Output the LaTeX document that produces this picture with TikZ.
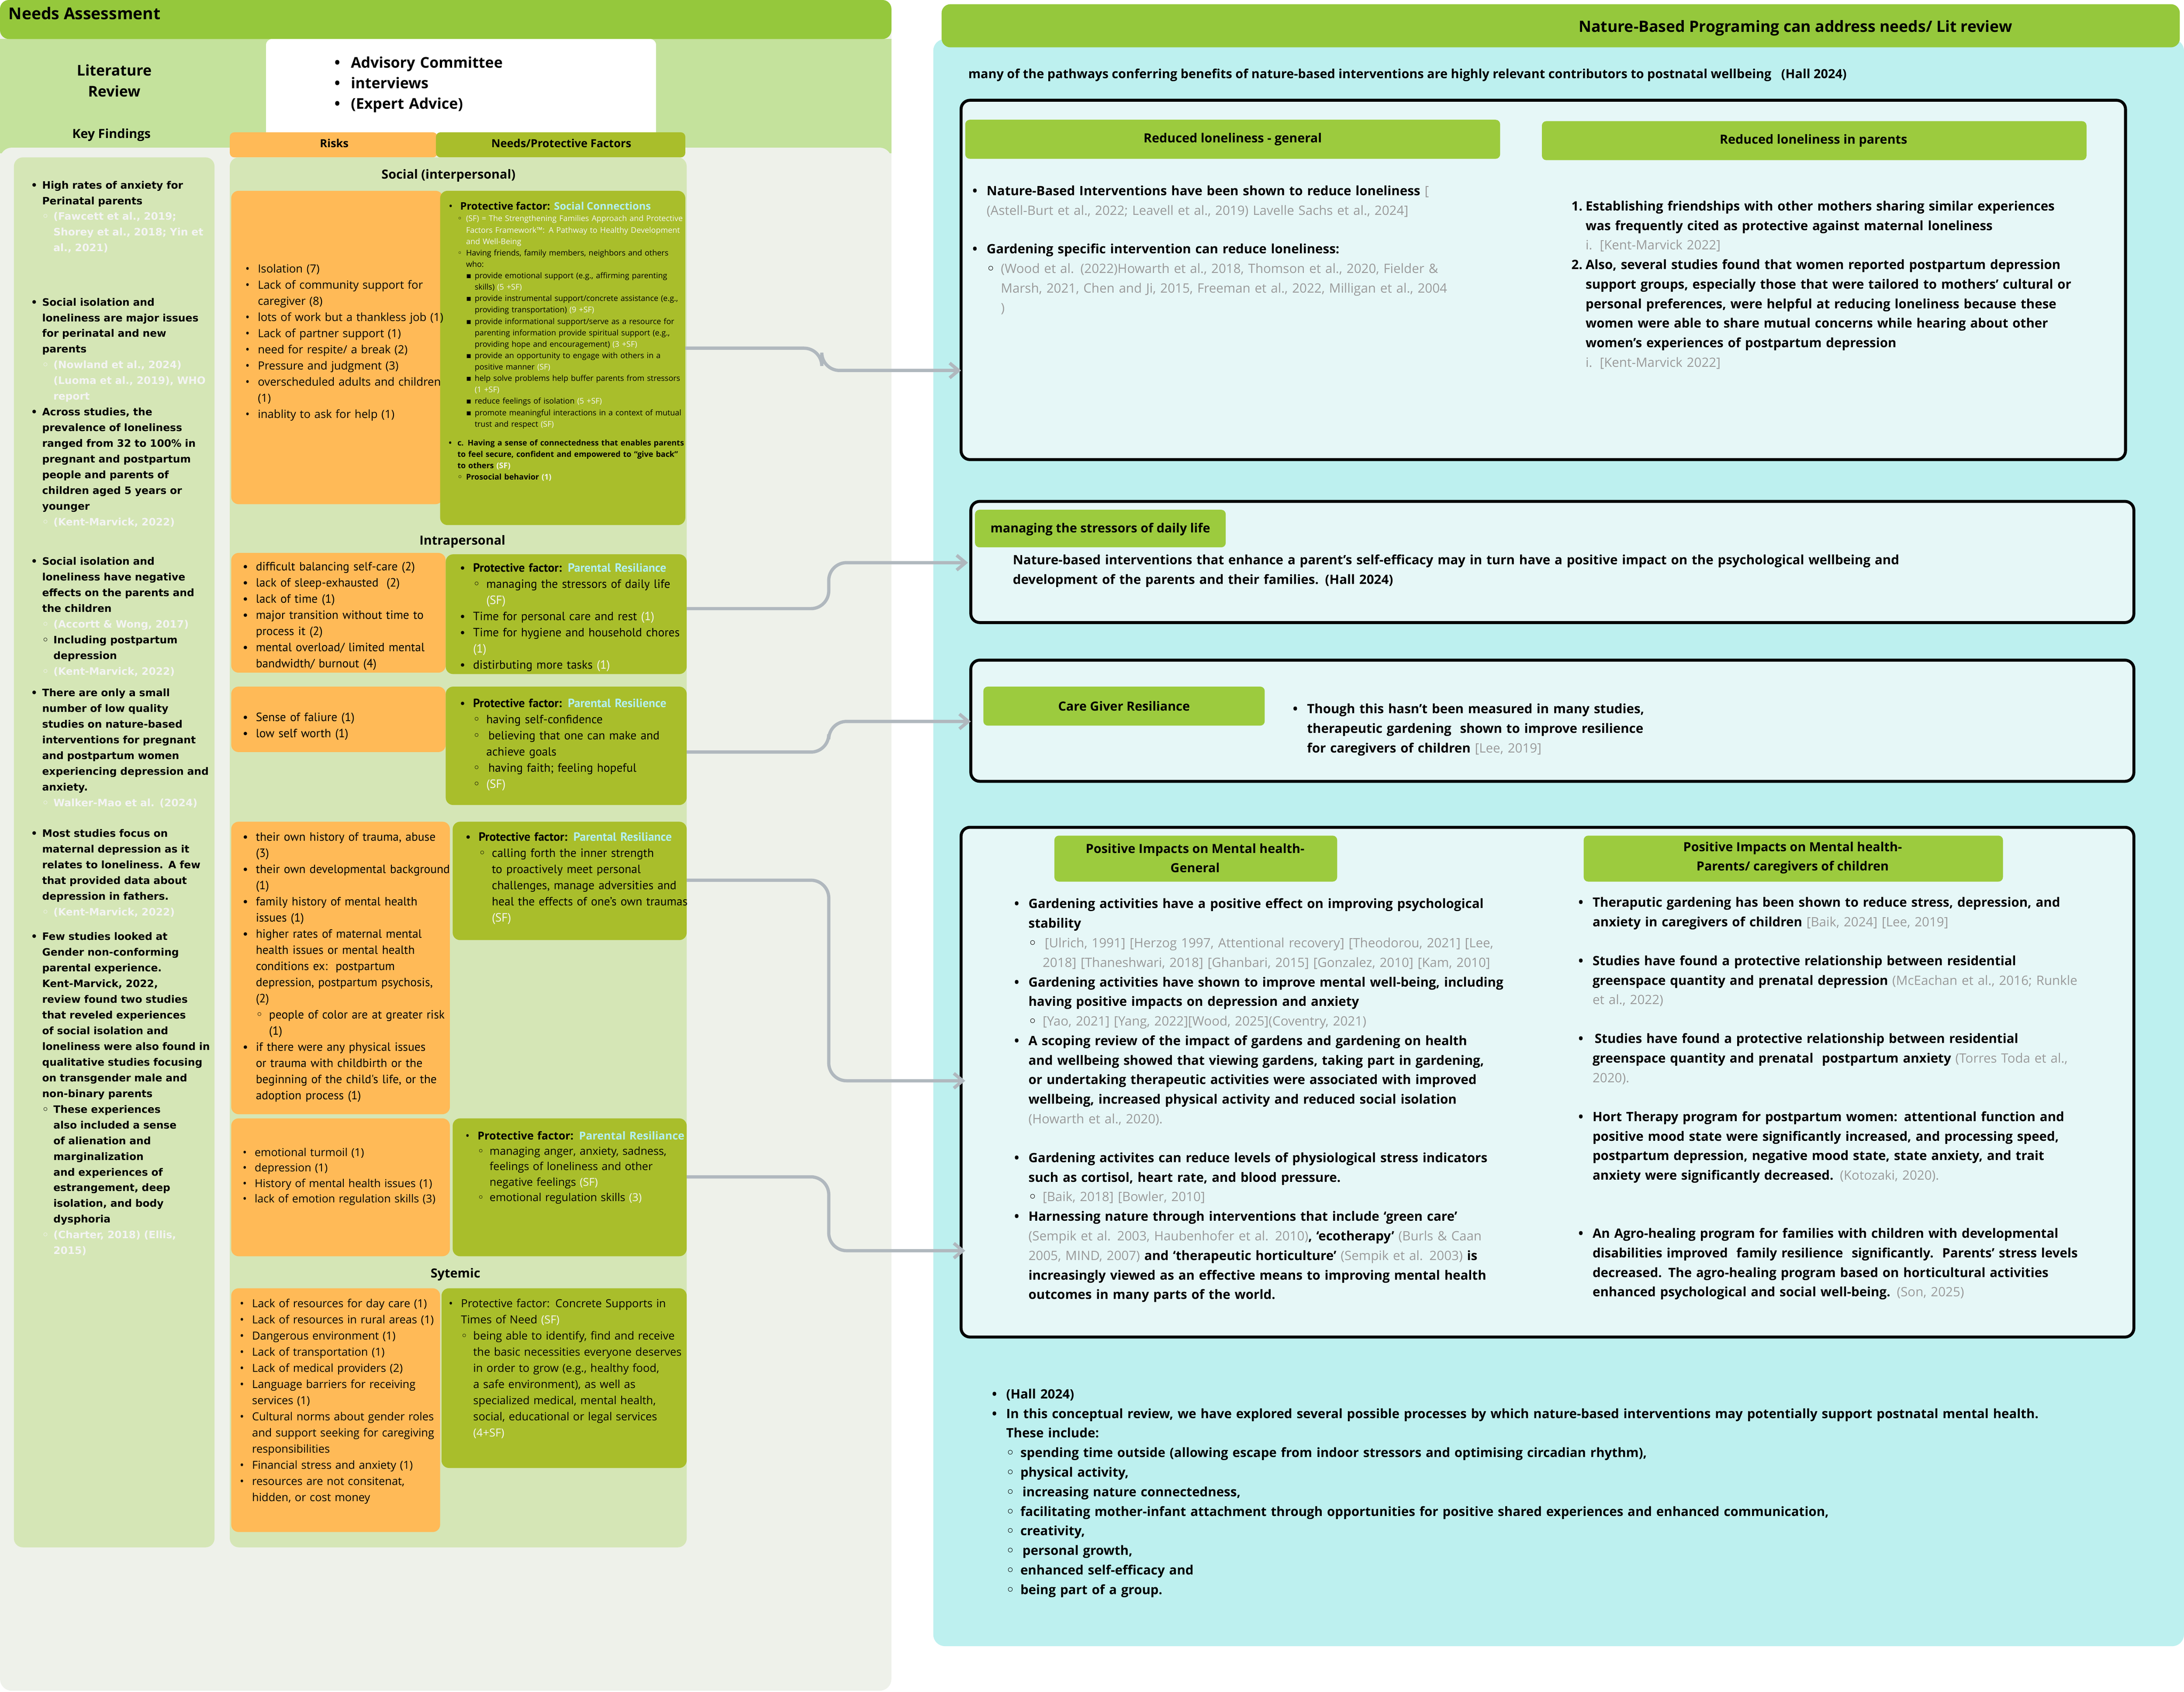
\documentclass[tikz,border=0pt]{standalone}
\usepackage{fontspec}
\setmainfont{Open Sans}
\newfontfamily\ptsans{PT Sans}
\newfontfamily\djv{DejaVu Sans}
\usetikzlibrary{arrows.meta}
\hyphenpenalty=10000 \exhyphenpenalty=10000
\definecolor{hdr}{HTML}{95C83C}
\definecolor{band}{HTML}{C4E29C}
\definecolor{panel}{HTML}{D5E6B6}
\definecolor{leftbg}{HTML}{EEF1EA}
\definecolor{orng}{HTML}{FFBA57}
\definecolor{olive}{HTML}{A9BE2B}
\definecolor{cyanbg}{HTML}{BDF0EF}
\definecolor{boxbg}{HTML}{E6F7F7}
\definecolor{lbl}{HTML}{9CCB3E}
\definecolor{arrg}{HTML}{B0B8BE}
\definecolor{citew}{HTML}{F4F4F4}
\definecolor{citeg}{HTML}{9A9A9A}
\definecolor{citec}{HTML}{B3F0F2}
\newcommand\fsz[2]{\fontsize{#1}{#2}\selectfont}
\newcommand\Li[3]{\par{\leftskip=#1\relax\hangindent=1.1em\hangafter=1\noindent\makebox[1.1em][l]{#2}#3\par}}
\newcommand\ba[1]{\Li{0pt}{\textbullet}{#1}}
\newcommand\bb[1]{\Li{1.1em}{{\djv ◦}}{#1}}
\newcommand\bbw[1]{\Li{1.1em}{\textcolor{citew}{\djv ◦}}{\textcolor{citew}{#1}}}
\newcommand\bc[1]{\Li{2.2em}{{\djv ▪}}{#1}}
\newcommand\cw[1]{\textcolor{citew}{#1}}
\newcommand\cg[1]{\textcolor{citeg}{\mdseries #1}}
\newcommand\cc[1]{\textcolor{citec}{#1}}
\tikzset{
  txt/.style={anchor=north west, inner sep=0pt, align=left},
  ttl/.style={inner sep=0pt, font=\bfseries\fsz{8.5}{10}},
  arr/.style={draw=arrg, line width=2.2pt, rounded corners=12pt, -{Straight Barb[length=6pt,width=10pt]}},
  bbox/.style={fill=boxbg, draw=black, line width=2pt, rounded corners=6pt},
  lblbox/.style={fill=lbl, rounded corners=3pt},
}
\begin{document}
\begin{tikzpicture}[x=0.94pt,y=-0.94pt]
\useasboundingbox (0,0) rectangle (1568,1214.8);
% ---------------- left panel
\fill[leftbg, rounded corners=8pt] (0,0) rectangle (640,1214);
\fill[band] (0,28) rectangle (640,110);
\fill[leftbg, rounded corners=8pt] (0,106) rectangle (640,130);
\fill[hdr, rounded corners=6pt] (0,0) rectangle (640,28);
\node[txt, font=\bfseries\fsz{11}{13}] (na) at (6,5) {Needs Assessment};
\node[ttl, font=\bfseries\fsz{10}{14}, align=center] (lr) at (82,58) {Literature\\Review};
\fill[white, rounded corners=4pt] (191,28) rectangle (471,100);
\node[txt, font=\bfseries\fsz{10}{13.8}, text width=210pt] (adv) at (240,34)
 {\ba{Advisory Committee}\ba{interviews}\ba{(Expert Advice)}};
\node[ttl] (kfl) at (80,97) {Key Findings};
\fill[panel, rounded corners=6pt] (10,113) rectangle (154,1111);
\node[txt, text width=122pt, font=\djv\bfseries\fsz{6.9}{10.6}] (kf) at (22,124) {%
\ba{High rates of anxiety for Perinatal parents}
\bbw{(Fawcett et al., 2019; Shorey et al., 2018; Yin et al., 2021)}
\vspace{26pt}
\ba{Social isolation and loneliness are major issues for perinatal and new parents}
\bbw{(Nowland et al., 2024) (Luoma et al., 2019), WHO report}
\ba{Across studies, the prevalence of loneliness ranged from 32 to 100\% in pregnant and postpartum people and parents of children aged 5 years or younger}
\bbw{(Kent-Marvick, 2022)}
\vspace{16pt}
\ba{Social isolation and loneliness have negative effects on the parents and the children}
\bbw{(Accortt \& Wong, 2017)}
\bb{Including postpartum depression}
\bbw{(Kent-Marvick, 2022)}
\vspace{4pt}
\ba{There are only a small number of low quality studies on nature-based interventions for pregnant and postpartum women experiencing depression and anxiety.}
\bbw{Walker-Mao et al. (2024)}
\vspace{10pt}
\ba{Most studies focus on maternal depression as it relates to loneliness. A few that provided data about depression in fathers.}
\bbw{(Kent-Marvick, 2022)}
\vspace{6pt}
\ba{Few studies looked at Gender non-conforming parental experience. Kent-Marvick, 2022, review found two studies that reveled experiences of social isolation and loneliness were also found in qualitative studies focusing on transgender male and non-binary parents}
\bb{These experiences also included a sense of alienation and marginalization and experiences of estrangement, deep isolation, and body dysphoria}
\bbw{(Charter, 2018) (Ellis, 2015)}};
% middle column
\fill[orng, rounded corners=3pt] (165,95) rectangle (314,113);
\fill[olive, rounded corners=3pt] (313,95) rectangle (492,113);
\node[ttl, font=\bfseries\fsz{7.5}{9}] (rk) at (240,103) {Risks};
\node[ttl, font=\bfseries\fsz{7.5}{9}] (nf) at (403,103) {Needs/Protective Factors};
\fill[panel, rounded corners=6pt] (165,113) rectangle (493,1111);
\node[ttl] (soc) at (322,126) {Social (interpersonal)};
\node[ttl] (intra) at (332,389) {Intrapersonal};
\node[ttl] (sys) at (327,915) {Sytemic};
% social
\fill[orng, rounded corners=5pt] (166,137) rectangle (318,362);
\fill[olive, rounded corners=5pt] (316,137) rectangle (492,377);
\node[txt, text width=134pt, font=\fsz{7.6}{10.9}] (r1) at (176,184) {%
\ba{Isolation (7)}\ba{Lack of community support for caregiver (8)}\ba{lots of work but a thankless job (1)}\ba{Lack of partner support (1)}\ba{need for respite/ a break (2)}\ba{Pressure and judgment (3)}\ba{overscheduled adults and children (1)}\ba{inablity to ask for help (1)}};
\node[txt, text width=160pt, font=\fsz{5.3}{7.7}] (p1) at (322,141) {%
{\fsz{7}{9}\ba{\bfseries Protective factor: \cc{Social Connections}}}
\bb{\cw{(SF) = The Strengthening Families Approach and Protective Factors Framework™: A Pathway to Healthy Development and Well-Being}}
\bb{Having friends, family members, neighbors and others who:}
\bc{provide emotional support (e.g., affirming parenting skills) \cw{(5 +SF)}}
\bc{provide instrumental support/concrete assistance (e.g., providing transportation) \cw{(9 +SF)}}
\bc{provide informational support/serve as a resource for parenting information provide spiritual support (e.g., providing hope and encouragement) \cw{(3 +SF)}}
\bc{provide an opportunity to engage with others in a positive manner \cw{(SF)}}
\bc{help solve problems help buffer parents from stressors \cw{(1 +SF)}}
\bc{reduce feelings of isolation \cw{(5 +SF)}}
\bc{promote meaningful interactions in a context of mutual trust and respect \cw{(SF)}}
\vspace{5pt}
{\bfseries\ba{c. Having a sense of connectedness that enables parents to feel secure, confident and empowered to “give back” to others \cw{(SF)}}
\bb{Prosocial behavior \cw{(1)}}}};
% intrapersonal 1
\fill[orng, rounded corners=5pt] (166,397) rectangle (320,483);
\fill[olive, rounded corners=5pt] (320,398) rectangle (493,484);
\node[txt, text width=140pt, font=\ptsans\fsz{8.1}{10.9}] (r2) at (174,398) {%
\ba{difficult balancing self-care (2)}\ba{lack of sleep-exhausted\ \ (2)}\ba{lack of time (1)}\ba{major transition without time to process it (2)}\ba{mental overload/ limited mental bandwidth/ burnout (4)}};
\node[txt, text width=155pt, font=\ptsans\fsz{8.1}{10.9}] (p2) at (330,399) {%
\ba{\bfseries Protective factor: \cc{Parental Resiliance}}\bb{managing the stressors of daily life \cw{(SF)}}\ba{Time for personal care and rest \cw{(1)}}\ba{Time for hygiene and household chores \cw{(1)}}\ba{distirbuting more tasks \cw{(1)}}};
% intrapersonal 2
\fill[orng, rounded corners=5pt] (166,493) rectangle (320,540);
\fill[olive, rounded corners=5pt] (320,493) rectangle (493,578);
\node[txt, text width=140pt, font=\ptsans\fsz{8.1}{10.9}] (r3) at (174,506) {%
\ba{Sense of faliure (1)}\ba{low self worth (1)}};
\node[txt, text width=155pt, font=\ptsans\fsz{8.1}{10.9}] (p3) at (330,496) {%
\ba{\bfseries Protective factor: \cc{Parental Resilience}}\bb{having self-confidence}\bb{\,believing that one can make and achieve goals}\bb{\,having faith; feeling hopeful}\bb{\cw{(SF)}}};
% intrapersonal 3
\fill[orng, rounded corners=5pt] (166,590) rectangle (323,800);
\fill[olive, rounded corners=5pt] (325,590) rectangle (493,675);
\node[txt, text width=140pt, font=\ptsans\fsz{8.1}{10.9}] (r4) at (174,592) {%
\ba{their own history of trauma, abuse (3)}\ba{their own developmental background (1)}\ba{family history of mental health issues (1)}\ba{higher rates of maternal mental health issues or mental health conditions ex:\ \ postpartum depression, postpartum psychosis, (2)}\bb{people of color are at greater risk (1)}\ba{if there were any physical issues or trauma with childbirth or the beginning of the child's life, or the adoption process (1)}};
\node[txt, text width=150pt, font=\ptsans\fsz{8.1}{10.9}] (p4) at (334,592) {%
\ba{\bfseries Protective factor: \cc{Parental Resiliance}}\bb{calling forth the inner strength to proactively meet personal challenges, manage adversities and heal the effects of one’s own traumas \cw{(SF)}}};
% intrapersonal 4
\fill[orng, rounded corners=5pt] (166,803) rectangle (323,902);
\fill[olive, rounded corners=5pt] (325,803) rectangle (493,902);
\node[txt, text width=142pt, font=\fsz{7.4}{10.4}] (r5) at (174,819) {%
\ba{emotional turmoil (1)}\ba{depression (1)}\ba{History of mental health issues (1)}\ba{lack of emotion regulation skills (3)}};
\node[txt, text width=152pt, font=\fsz{7.4}{10.4}] (p5) at (334,807) {%
\ba{\bfseries Protective factor: \cc{Parental Resiliance}}\bb{managing anger, anxiety, sadness, feelings of loneliness and other negative feelings \cw{(SF)}}\bb{emotional regulation skills \cw{(3)}}};
% systemic
\fill[orng, rounded corners=5pt] (166,925) rectangle (316,1100);
\fill[olive, rounded corners=5pt] (317,925) rectangle (493,1054);
\node[txt, text width=134pt, font=\fsz{7.5}{10.9}] (r6) at (172,927) {%
\ba{Lack of resources for day care (1)}\ba{Lack of resources in rural areas (1)}\ba{Dangerous environment (1)}\ba{Lack of transportation (1)}\ba{Lack of medical providers (2)}\ba{Language barriers for receiving services (1)}\ba{Cultural norms about gender roles and support seeking for caregiving responsibilities}\ba{Financial stress and anxiety (1)}\ba{resources are not consitenat, hidden, or cost money}};
\node[txt, text width=162pt, font=\fsz{7.5}{10.9}] (p6) at (322,927) {%
\ba{Protective factor: Concrete Supports in Times of Need \cw{(SF)}}\bb{being able to identify, find and receive the basic necessities everyone deserves in order to grow (e.g., healthy food, a safe environment), as well as specialized medical, mental health, social, educational or legal services \cw{(4+SF)}}};
% ---------------- right panel
\fill[cyanbg, rounded corners=8pt] (670,28) rectangle (1568,1182);
\fill[hdr, rounded corners=6pt] (676,3) rectangle (1565,34);
\node[ttl, font=\bfseries\fsz{10.5}{12}] (nb) at (1289,20) {Nature-Based Programing can address needs/ Lit review};
\node[txt, anchor=west, font=\bfseries\fsz{8.5}{10}] (intro) at (695,54) {many of the pathways conferring benefits of nature-based interventions are highly relevant contributors to postnatal wellbeing\ \ \ (Hall 2024)};
% box 1
\draw[bbox] (690,72) rectangle (1526,330);
\fill[lblbox] (693,86) rectangle (1077,114);
\fill[lblbox] (1107,87) rectangle (1498,115);
\node[ttl, font=\bfseries\fsz{8.5}{10}] (l1) at (885,100) {Reduced loneliness - general};
\node[ttl, font=\bfseries\fsz{8.5}{10}] (l2) at (1302,101) {Reduced loneliness in parents};
\node[txt, text width=334pt, font=\bfseries\fsz{8.7}{13.2}] (b1a) at (698,126) {%
\ba{Nature-Based Interventions have been shown to reduce loneliness \cg{[ (Astell-Burt et al., 2022; Leavell et al., 2019) Lavelle Sachs et al., 2024]}}
\vspace{13pt}
\ba{Gardening specific intervention can reduce loneliness:}
\bb{\cg{(Wood et al. (2022)Howarth et al., 2018, Thomson et al., 2020, Fielder \& Marsh, 2021, Chen and Ji, 2015, Freeman et al., 2022, Milligan et al., 2004 )}}};
\node[txt, text width=340pt, font=\bfseries\fsz{8.7}{13.2}] (b1b) at (1128,137) {%
\Li{0pt}{1.}{Establishing friendships with other mothers sharing similar experiences was frequently cited as protective against maternal loneliness}
\Li{1.1em}{\cg{i.}}{\cg{[Kent-Marvick 2022]}}
\Li{0pt}{2.}{Also, several studies found that women reported postpartum depression support groups, especially those that were tailored to mothers' cultural or personal preferences, were helpful at reducing loneliness because these women were able to share mutual concerns while hearing about other women's experiences of postpartum depression}
\Li{1.1em}{\cg{i.}}{\cg{[Kent-Marvick 2022]}}};
% box 2
\draw[bbox] (697,360) rectangle (1532,447);
\fill[lblbox] (700,366) rectangle (880,393);
\node[ttl, font=\bfseries\fsz{8.5}{10}] (l3) at (790,380) {managing the stressors of daily life};
\node[txt, text width=630pt, font=\bfseries\fsz{8.7}{13.2}] (b2) at (727,398) {Nature-based interventions that enhance a parent's self-efficacy may in turn have a positive impact on the psychological wellbeing and development of the parents and their families. (Hall 2024)};
% box 3
\draw[bbox] (697,474) rectangle (1532,561);
\fill[lblbox] (706,493) rectangle (908,521);
\node[ttl, font=\bfseries\fsz{8.5}{10}] (l4) at (807,507) {Care Giver Resiliance};
\node[txt, text width=250pt, font=\bfseries\fsz{8.7}{13.2}] (b3) at (928,498) {%
\ba{Though this hasn’t been measured in many studies, therapeutic gardening\ \ shown to improve resilience for caregivers of children \cg{[Lee, 2019]}}};
% box 4
\draw[bbox] (690,594) rectangle (1532,960);
\fill[lblbox] (757,600) rectangle (960,633);
\fill[lblbox] (1137,600) rectangle (1438,633);
\node[ttl, font=\bfseries\fsz{8.5}{13}, align=center] (l5) at (858,616) {Positive Impacts on Mental health-\\General};
\node[ttl, font=\bfseries\fsz{8.5}{13}, align=center] (l6) at (1287,616) {Positive Impacts on Mental health-\\Parents/ caregivers of children};
\node[txt, text width=334pt, font=\bfseries\fsz{8.7}{13.2}] (b4a) at (728,638) {%
\ba{Gardening activities have a positive effect on improving psychological stability}
\bb{\cg{\,[Ulrich, 1991] [Herzog 1997, Attentional recovery] [Theodorou, 2021] [Lee, 2018] [Thaneshwari, 2018] [Ghanbari, 2015] [Gonzalez, 2010] [Kam, 2010]}}
\ba{Gardening activities have shown to improve mental well-being, including having positive impacts on depression and anxiety}
\bb{\cg{[Yao, 2021] [Yang, 2022][Wood, 2025](Coventry, 2021)}}
\ba{A scoping review of the impact of gardens and gardening on health and wellbeing showed that viewing gardens, taking part in gardening, or undertaking therapeutic activities were associated with improved wellbeing, increased physical activity and reduced social isolation \cg{(Howarth et al., 2020).}}
\vspace{13pt}
\ba{Gardening activites can reduce levels of physiological stress indicators such as cortisol, heart rate, and blood pressure.}
\bb{\cg{[Baik, 2018] [Bowler, 2010]}}
\ba{Harnessing nature through interventions that include ‘green care’ \cg{(Sempik et al. 2003, Haubenhofer et al. 2010)}, ‘ecotherapy’ \cg{(Burls \& Caan 2005, MIND, 2007)} and ‘therapeutic horticulture’ \cg{(Sempik et al. 2003)} is increasingly viewed as an effective means to improving mental health outcomes in many parts of the world.}};
\node[txt, text width=345pt, font=\bfseries\fsz{8.7}{13.2}] (b4b) at (1133,637) {%
\ba{Theraputic gardening has been shown to reduce stress, depression, and anxiety in caregivers of children \cg{[Baik, 2024] [Lee, 2019]}}
\vspace{13pt}
\ba{Studies have found a protective relationship between residential greenspace quantity and prenatal depression \cg{(McEachan et al., 2016; Runkle et al., 2022)}}
\vspace{13pt}
\ba{\,Studies have found a protective relationship between residential greenspace quantity and prenatal\ \ postpartum anxiety \cg{(Torres Toda et al., 2020).}}
\vspace{13pt}
\ba{Hort Therapy program for postpartum women: attentional function and positive mood state were significantly increased, and processing speed, postpartum depression, negative mood state, state anxiety, and trait anxiety were significantly decreased. \cg{(Kotozaki, 2020).}}
\vspace{26pt}
\ba{An Agro-healing program for families with children with developmental disabilities improved\ \ family resilience\ \ significantly.\ \ Parents' stress levels decreased. The agro-healing program based on horticultural activities enhanced psychological and social well-being. \cg{(Son, 2025)}}};
% bottom
\node[txt, text width=715pt, font=\bfseries\fsz{8.7}{13.2}] (bot) at (712,990) {%
\ba{(Hall 2024)}
\ba{In this conceptual review, we have explored several possible processes by which nature-based interventions may potentially support postnatal mental health. These include:}
\bb{spending time outside (allowing escape from indoor stressors and optimising circadian rhythm),}
\bb{physical activity,}
\bb{\,increasing nature connectedness,}
\bb{facilitating mother-infant attachment through opportunities for positive shared experiences and enhanced communication,}
\bb{creativity,}
\bb{\,personal growth,}
\bb{enhanced self-efficacy and}
\bb{being part of a group.}};
% ---------------- connectors
\coordinate (s1) at (492,250); \coordinate (t1) at (690,266);
\coordinate (s2) at (493,437); \coordinate (t2) at (695,404);
\coordinate (s3) at (493,540); \coordinate (t3) at (697,518);
\coordinate (s4) at (493,632); \coordinate (t4) at (693,776);
\coordinate (s5) at (493,845); \coordinate (t5) at (693,898);
\draw[arr] (s1) -- ++(98,0) |- (t1);
\draw[arr] (s2) -- ++(102,0) |- (t2);
\draw[arr] (s3) -- ++(102,0) |- (t3);
\draw[arr] (s4) -- ++(102,0) |- (t4);
\draw[arr] (s5) -- ++(102,0) |- (t5);
\end{tikzpicture}
\end{document}
